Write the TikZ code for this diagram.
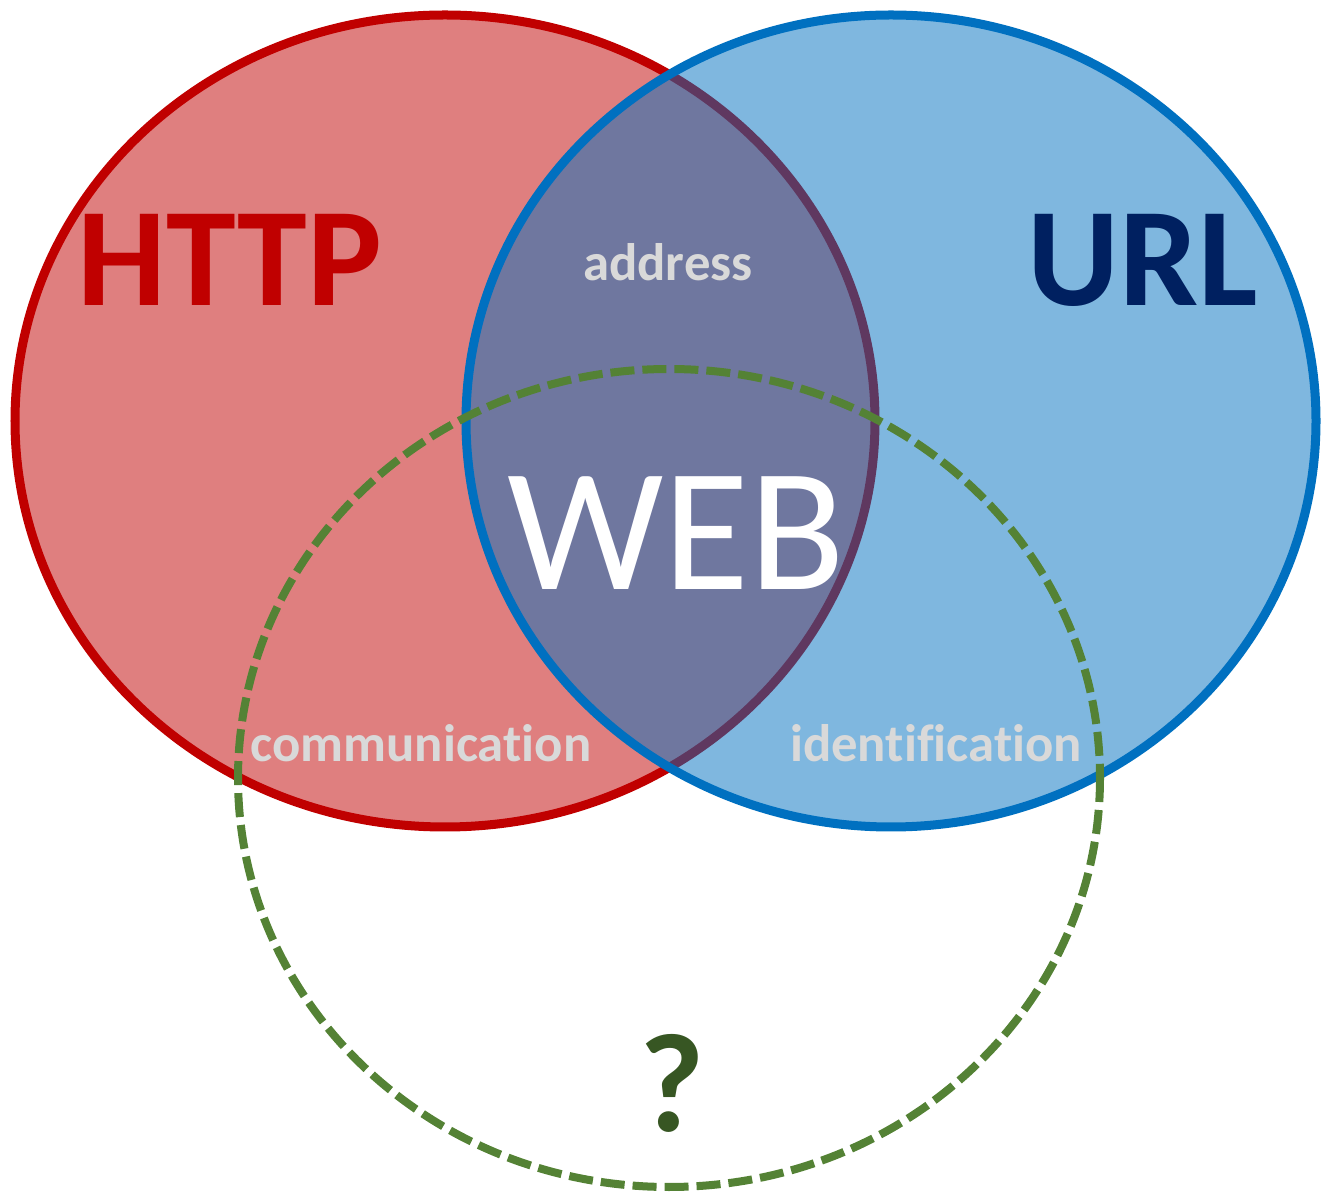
\documentclass[tikz,border=0pt]{standalone}
\usepackage{fontspec}
\setmainfont{Carlito}[Ligatures=NoCommon]

\definecolor{httpred}{HTML}{C00000}
\definecolor{urlblue}{HTML}{0070C0}
\definecolor{urlnavy}{HTML}{002060}
\definecolor{webgreen}{HTML}{548235}
\definecolor{qgreen}{HTML}{375623}
\definecolor{lightlabel}{HTML}{D9D9D9}

\tikzset{
	setfill/.style={line width=0.09cm, fill opacity=0.5},
	bigtitle/.style={font=\bfseries\fontsize{40}{40}\selectfont, inner sep=0pt},
	smalltag/.style={font=\bfseries\fontsize{15}{15}\selectfont, text=lightlabel, inner sep=0pt},
}

\begin{document}
\begin{tikzpicture}[x=0.01cm, y=-0.01cm]

	\useasboundingbox (0,0) rectangle (1321,1192);

	% the three sets
	\draw[setfill, draw=httpred, fill=httpred] (445,421) ellipse [x radius=430, y radius=406];
	\draw[setfill, draw=urlblue, fill=urlblue] (891,421) ellipse [x radius=425, y radius=406];
	\draw[line width=0.08cm, webgreen, dash pattern=on 0.24cm off 0.08cm] (669,778) ellipse [x radius=431, y radius=409];

	% set names
	\node[bigtitle, text=httpred] (http) at (230,260) {HTTP};
	\node[bigtitle, text=urlnavy] (url)  at (1143,260) {URL};
	\node[bigtitle, text=qgreen]  (q)    at (672,1083) {?};
	\node[inner sep=0pt, text=white, font=\fontsize{50}{50}\selectfont] (web) at (676,533) {WEB};

	% overlaps
	\node[smalltag] (addr)  at (668,262) {address};
	\node[smalltag] (comm)  at (421,743) {communication};
	\node[smalltag] (ident) at (936,743) {identification};

\end{tikzpicture}
\end{document}
